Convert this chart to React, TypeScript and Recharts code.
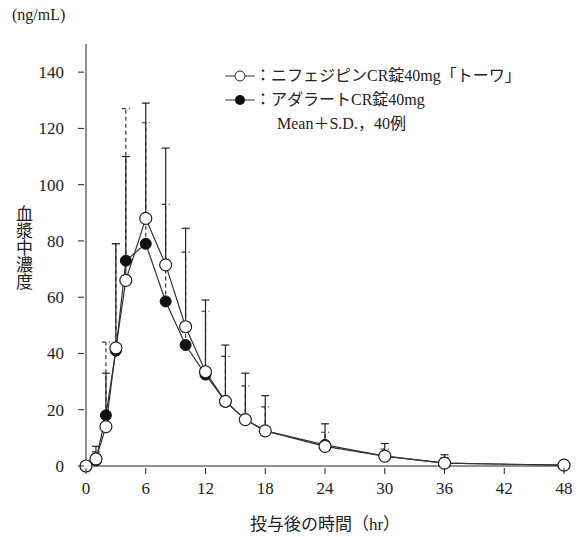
import React from 'react';
import { ComposedChart, Line, XAxis, YAxis, ErrorBar } from 'recharts';

const times = [0, 1, 2, 3, 4, 6, 8, 10, 12, 14, 16, 18, 24, 30, 36, 48];
const towaMean = [0, 2.5, 14, 42, 66, 88, 71.5, 49.5, 33.5, 23, 16.5, 12.5, 7, 3.5, 1, 0.3];
const towaSd = [0, 4.5, 19, 37, 44, 41, 41.5, 35, 25.5, 20, 16.5, 12.5, 8, 4.5, 3, 0.7];
const adalatMean = [0, 2, 18, 41, 73, 79, 58.5, 43, 32.5, 23, 16.5, 12.5, 7.5, 3.5, 1, 0.3];
const adalatSd = [0, 3, 26, 38, 54, 43, 34.5, 33, 22.5, 16, 12, 8.5, 4.5, 2.5, 2, 0.7];
const xTicks = [0, 6, 12, 18, 24, 30, 36, 42, 48];
const yTicks = [0, 20, 40, 60, 80, 100, 120, 140];

const data = times.map((t, i) => ({
  t,
  towa: towaMean[i],
  towaErr: [0, towaSd[i]],
  adalat: adalatMean[i],
  adalatErr: [0, adalatSd[i]],
}));

const font = '"Liberation Serif", "Noto Sans CJK JP", serif';
const ink = '#222';

const XTick = (props: any) => {
  const { x, y, payload } = props;
  return (
    <g>
      <line x1={x} x2={x} y1={y} y2={y - 6} stroke={ink} />
      <text x={x} y={y + 20} textAnchor="middle" fontSize={17} fill={ink} fontFamily={font}>
        {payload.value}
      </text>
    </g>
  );
};

const YTick = (props: any) => {
  const { x, y, payload } = props;
  return (
    <g>
      <line x1={x} x2={x + 6} y1={y} y2={y} stroke={ink} />
      <text x={x - 14} y={y + 6} textAnchor="end" fontSize={17} fill={ink} fontFamily={font}>
        {payload.value}
      </text>
    </g>
  );
};

const App: React.FC = () => {
  return (
    <div style={{ position: 'absolute', left: 0, top: 0, width: 580, height: 537, background: '#fff', fontFamily: font, color: ink }}>
      <ComposedChart width={580} height={537} data={data} margin={{ top: 44, right: 16, left: 0, bottom: 0 }}>
        <XAxis
          dataKey="t"
          type="number"
          domain={[0, 48]}
          ticks={xTicks}
          tickLine={false}
          tick={<XTick />}
          stroke={ink}
          height={71}
        />
        <YAxis
          type="number"
          domain={[0, 150]}
          ticks={yTicks}
          tickLine={false}
          tick={<YTick />}
          stroke={ink}
          width={86}
        />
        <Line
          dataKey="adalat"
          stroke="#333"
          strokeWidth={1.2}
          isAnimationActive={false}
          dot={{ r: 5.5, fill: '#111', stroke: '#111', strokeWidth: 1 }}
        >
          <ErrorBar dataKey="adalatErr" direction="y" width={4} stroke="#333" strokeWidth={1.2} strokeDasharray="4 3" />
        </Line>
        <Line
          dataKey="towa"
          stroke="#333"
          strokeWidth={1.2}
          isAnimationActive={false}
          dot={{ r: 6, fill: '#fff', stroke: '#222', strokeWidth: 1.2 }}
        >
          <ErrorBar dataKey="towaErr" direction="y" width={4} stroke="#222" strokeWidth={1.2} />
        </Line>
      </ComposedChart>
      <div style={{ position: 'absolute', left: 12, top: 6, fontSize: 16 }}>(ng/mL)</div>
      <div style={{ position: 'absolute', left: 12, top: 205, width: 20, fontSize: 17, lineHeight: '20px', writingMode: 'vertical-rl' }}>
        血漿中濃度
      </div>
      <div style={{ position: 'absolute', left: 0, width: 650, top: 510, textAlign: 'center', fontSize: 17 }}>
        投与後の時間（hr）
      </div>
      <div style={{ position: 'absolute', left: 225, top: 64, fontSize: 16, lineHeight: '24px' }}>
        <div style={{ display: 'flex', alignItems: 'center' }}>
          <svg width={30} height={14}>
            <line x1={0} x2={30} y1={7} y2={7} stroke="#333" />
            <circle cx={15} cy={7} r={5} fill="#fff" stroke="#222" />
          </svg>
          <span>：ニフェジピンCR錠40mg「トーワ」</span>
        </div>
        <div style={{ display: 'flex', alignItems: 'center' }}>
          <svg width={30} height={14}>
            <line x1={0} x2={30} y1={7} y2={7} stroke="#333" />
            <circle cx={15} cy={7} r={5} fill="#111" />
          </svg>
          <span>：アダラートCR錠40mg</span>
        </div>
        <div style={{ paddingLeft: 52 }}>Mean＋S.D.，40例</div>
      </div>
    </div>
  );
};

export default App;
